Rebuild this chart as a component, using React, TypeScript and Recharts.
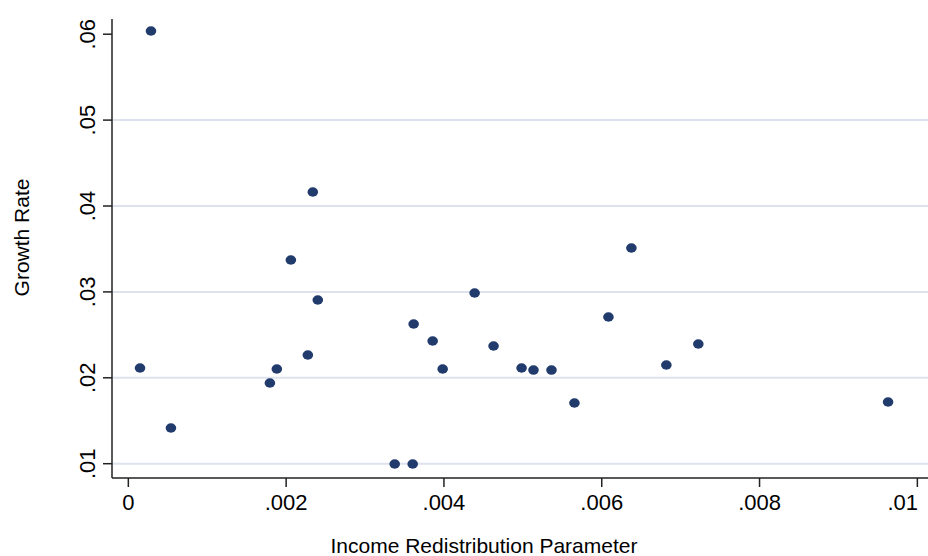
import { useEffect } from "react";
import {
  ReferenceLine,
  Scatter,
  ScatterChart,
  XAxis,
  YAxis,
  Label,
} from "recharts";

const redistribution = [
  0.000287, 0.000148, 0.00054, 0.001794, 0.001882, 0.002275, 0.00206, 0.002338,
  0.002401, 0.003376, 0.003604, 0.003616, 0.003857, 0.003984, 0.004389, 0.004629,
  0.004984, 0.005135, 0.005363, 0.005654, 0.006085, 0.006376, 0.006819, 0.007224,
  0.009629,
];
const growth = [
  0.06037, 0.02114, 0.01416, 0.01939, 0.02102, 0.02265, 0.03371, 0.04163,
  0.02906, 0.00997, 0.00997, 0.02626, 0.02428, 0.02102, 0.02987, 0.0237,
  0.02114, 0.0209, 0.0209, 0.01707, 0.02708, 0.03511, 0.02149, 0.02393,
  0.01718,
];
const xTicks = [0, 0.002, 0.004, 0.006, 0.008, 0.01];
const yTicks = [0.01, 0.02, 0.03, 0.04, 0.05, 0.06];
const gridValues = [0.01, 0.02, 0.03, 0.04, 0.05];

const points = redistribution.map((x, i) => ({ x, y: growth[i] }));

const FONT = "'Liberation Sans', Arial, Helvetica, sans-serif";
const NAVY = "#213b6c";

function fmt(v: number) {
  if (v === 0) return "0";
  return String(+v.toFixed(4)).replace(/^0\./, ".");
}

function YTick(props: any) {
  const { x, y, payload } = props;
  return (
    <text
      transform={`translate(${x}, ${y}) rotate(-90)`}
      textAnchor="middle"
      fontSize={22}
      fontFamily={FONT}
      fill="#000"
    >
      {fmt(payload.value)}
    </text>
  );
}

// last label is pulled inside the right edge, like the original
function XTick(props: any) {
  const { x, y, payload, index } = props;
  const last = index === xTicks.length - 1;
  return (
    <text
      x={last ? x + 4 : x}
      y={y + 16}
      textAnchor={last ? "end" : "middle"}
      fontSize={22}
      fontFamily={FONT}
      fill="#000"
    >
      {fmt(payload.value)}
    </text>
  );
}

function Dot(props: any) {
  const { cx, cy } = props;
  if (cx == null || cy == null) return null;
  return <ellipse cx={cx} cy={cy} rx={5.3} ry={4.7} fill={NAVY} />;
}

export default function App() {
  useEffect(() => {
    document.body.style.margin = "0";
  }, []);

  return (
    <div style={{ position: "absolute", left: 0, top: 0, width: 928, height: 556, background: "#fff" }}>
      <ScatterChart width={928} height={556} margin={{ top: 19, right: 0, bottom: 0, left: 0 }}>
        {gridValues.map((v) => (
          <ReferenceLine key={v} y={v} stroke="#dde2ee" strokeWidth={2} ifOverflow="extendDomain" />
        ))}
        <XAxis
          type="number"
          dataKey="x"
          domain={[-0.000207, 0.010135]}
          ticks={xTicks}
          allowDataOverflow
          height={78}
          tickSize={9}
          tickMargin={7}
          stroke="#222"
          strokeWidth={1.5}
          tick={<XTick />}
        >
          <Label
            content={(p: any) => {
              const vb = p.viewBox;
              return (
                <text
                  x={vb.x + vb.width / 2 - 36}
                  y={553}
                  textAnchor="middle"
                  fontSize={21}
                  fontFamily={FONT}
                  fill="#000"
                >
                  Income Redistribution Parameter
                </text>
              );
            }}
          />
        </XAxis>
        <YAxis
          type="number"
          dataKey="y"
          domain={[0.008335, 0.06177]}
          ticks={yTicks}
          allowDataOverflow
          width={112}
          tickSize={9}
          tickMargin={8}
          stroke="#222"
          strokeWidth={1.5}
          tick={<YTick />}
        >
          <Label
            content={(p: any) => {
              const vb = p.viewBox;
              const cy = vb.y + vb.height / 2 - 11;
              return (
                <text
                  transform={`translate(29, ${cy}) rotate(-90)`}
                  textAnchor="middle"
                  fontSize={21}
                  fontFamily={FONT}
                  fill="#000"
                >
                  Growth Rate
                </text>
              );
            }}
          />
        </YAxis>
        <Scatter data={points} shape={<Dot />} isAnimationActive={false} />
      </ScatterChart>
    </div>
  );
}
